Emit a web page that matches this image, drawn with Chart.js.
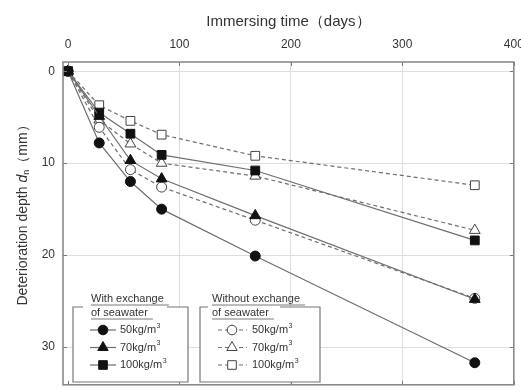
<!DOCTYPE html>
<html>
<head>
<meta charset="utf-8">
<script src="https://cdn.jsdelivr.net/npm/chart.js@4.4.1/dist/chart.umd.min.js"></script>
<style>
html,body{margin:0;padding:0;background:#fff}
#wrap{width:521px;height:392px}
</style>
</head>
<body>
<div id="wrap"><canvas id="c" width="521" height="392"></canvas></div>
<script>
// immersion days (x) and deterioration depth in mm (y)
const DAYS = [0, 28, 56, 84, 168, 365];
const WITH_50 = [0, 7.8, 12.0, 15.0, 20.1, 31.7];
const WITH_70 = [0, 4.9, 9.7, 11.7, 15.7, 24.8];
const WITH_100 = [0, 4.5, 6.8, 9.1, 10.8, 18.4];
const WITHOUT_50 = [0, 6.1, 10.7, 12.6, 16.2, 24.7];
const WITHOUT_70 = [0, 5.3, 7.9, 10.0, 11.4, 17.3];
const WITHOUT_100 = [0, 3.7, 5.4, 6.9, 9.2, 12.4];
const X_TICKS = [0, 100, 200, 300, 400];
const Y_TICKS = [0, 10, 20, 30];
const DOSES = ["50kg/m", "70kg/m", "100kg/m"];
const SHAPES = ["circle", "triangle", "rect"];

const FONT = "'Liberation Sans', Arial, sans-serif";
const LINE = "#6e6e6e";
const INK = "#111";
const TXT = "#333";

Chart.defaults.font.family = FONT;

function pts(vals){ return DAYS.map((d,i)=>({x:d, y:vals[i]})); }
function radius(shape){ return shape==="circle" ? 5 : shape==="triangle" ? 6.2 : 6.2; }

function series(label, vals, shape, filled){
  return {
    label, data: pts(vals),
    borderColor: LINE, borderWidth: 1.2,
    borderDash: filled ? [] : [4,3],
    pointStyle: shape, pointRadius: radius(shape),
    pointBackgroundColor: filled ? INK : "#fff",
    pointBorderColor: filled ? INK : "#444",
    pointBorderWidth: 1,
    tension: 0, fill: false
  };
}

function mark(ctx, shape, x, y, filled){
  ctx.save();
  ctx.beginPath();
  if(shape==="circle"){ ctx.arc(x, y, 4.8, 0, Math.PI*2); }
  else if(shape==="triangle"){
    const r = 6;
    ctx.moveTo(x, y-r);
    ctx.lineTo(x + r*Math.sin(2*Math.PI/3), y - r*Math.cos(2*Math.PI/3));
    ctx.lineTo(x + r*Math.sin(4*Math.PI/3), y - r*Math.cos(4*Math.PI/3));
    ctx.closePath();
  } else { ctx.rect(x-4.3, y-4.3, 8.6, 8.6); }
  ctx.fillStyle = filled ? INK : "#fff";
  ctx.fill();
  ctx.lineWidth = 1; ctx.strokeStyle = filled ? INK : "#444";
  ctx.stroke();
  ctx.restore();
}

function legendBox(ctx, b){
  ctx.save();
  ctx.fillStyle = "#fff";
  ctx.fillRect(b.x0, b.y0, b.x1-b.x0, b.y1-b.y0);
  ctx.strokeStyle = "#777"; ctx.lineWidth = 1.2;
  ctx.beginPath();
  ctx.moveTo(b.gap0, b.y0); ctx.lineTo(b.x0, b.y0); ctx.lineTo(b.x0, b.y1);
  ctx.lineTo(b.x1, b.y1); ctx.lineTo(b.x1, b.y0); ctx.lineTo(b.gap1, b.y0);
  ctx.stroke();
  ctx.font = "11px " + FONT; ctx.fillStyle = TXT; ctx.textBaseline = "middle";
  b.title.forEach((t,i)=>{
    const ty = b.ty + i*14;
    ctx.fillText(t, b.tx, ty);
    const w = ctx.measureText(t).width;
    ctx.strokeStyle = "#555"; ctx.lineWidth = 0.8;
    ctx.beginPath(); ctx.moveTo(b.tx, ty+6); ctx.lineTo(b.tx+w+5, ty+6); ctx.stroke();
  });
  DOSES.forEach((d,i)=>{
    const ry = b.ry + i*17.5;
    ctx.strokeStyle = LINE; ctx.lineWidth = 1.2;
    ctx.setLineDash(b.filled ? [] : [4,3]);
    ctx.beginPath(); ctx.moveTo(b.l0, ry); ctx.lineTo(b.l1, ry); ctx.stroke();
    ctx.setLineDash([]);
    mark(ctx, SHAPES[i], b.mx, ry, b.filled);
    ctx.font = "11px " + FONT; ctx.fillStyle = TXT;
    ctx.fillText(d, b.lx, ry);
    const w = ctx.measureText(d).width;
    ctx.font = "7px " + FONT;
    ctx.fillText("3", b.lx + w + 0.5, ry - 4);
  });
  ctx.restore();
}

const framePlugin = {
  id: "frame",
  afterDraw(chart){
    const {ctx, chartArea: a, scales} = chart;
    const sx = scales.x, sy = scales.y;
    ctx.save();
    // inward tick marks
    ctx.strokeStyle = "#777"; ctx.lineWidth = 1;
    ctx.beginPath();
    X_TICKS.forEach(v=>{
      const px = Math.round(sx.getPixelForValue(v)) + 0.5;
      ctx.moveTo(px, a.top); ctx.lineTo(px, a.top+4);
      ctx.moveTo(px, a.bottom); ctx.lineTo(px, a.bottom-4);
    });
    Y_TICKS.forEach(v=>{
      const py = Math.round(sy.getPixelForValue(v)) + 0.5;
      ctx.moveTo(a.left, py); ctx.lineTo(a.left+4, py);
      ctx.moveTo(a.right, py); ctx.lineTo(a.right-4, py);
    });
    ctx.stroke();
    // frame
    ctx.strokeStyle = "#8a8a8a"; ctx.lineWidth = 1.6;
    ctx.strokeRect(a.left, a.top, a.right-a.left, a.bottom-a.top);

    // y title with italic d and subscript n
    const parts = [
      {t:"Deterioration depth ", f:"14px " + FONT, dy:0},
      {t:"d", f:"italic 14px " + FONT, dy:0},
      {t:"n", f:"9px " + FONT, dy:4},
      {t:"（mm）", f:"14px " + FONT, dy:0}
    ];
    let total = 0;
    parts.forEach(p=>{ ctx.font = p.f; p.w = ctx.measureText(p.t).width; total += p.w; });
    ctx.translate(23, 212); ctx.rotate(-Math.PI/2);
    ctx.fillStyle = TXT; ctx.textBaseline = "middle";
    let cx = -total/2;
    parts.forEach(p=>{ ctx.font = p.f; ctx.fillText(p.t, cx, p.dy); cx += p.w; });
    ctx.restore();

    legendBox(ctx, {x0:73, x1:188, y0:307, y1:382, gap0:83, gap1:167,
      title:["With exchange", "of seawater"], tx:91, ty:299,
      ry:330, l0:90, l1:116, mx:103, lx:120, filled:true});
    legendBox(ctx, {x0:200, x1:320, y0:307, y1:382, gap0:208, gap1:280,
      title:["Without exchange", "of seawater"], tx:212, ty:299,
      ry:330, l0:218, l1:247, mx:232, lx:252, filled:false});
  }
};

const gridColor = c => (c.tick && (c.tick.value === 0 && c.scale.axis === "x")) ? "rgba(0,0,0,0)" : "#dedede";

new Chart(document.getElementById("c"), {
  type: "line",
  data: {
    datasets: [
      series("With 50kg/m3", WITH_50, "circle", true),
      series("With 70kg/m3", WITH_70, "triangle", true),
      series("With 100kg/m3", WITH_100, "rect", true),
      series("Without 50kg/m3", WITHOUT_50, "circle", false),
      series("Without 70kg/m3", WITHOUT_70, "triangle", false),
      series("Without 100kg/m3", WITHOUT_100, "rect", false)
    ]
  },
  options: {
    responsive: false, animation: false, devicePixelRatio: 1,
    layout: { padding: { left: 0, top: 0, right: 7, bottom: 7 } },
    plugins: { legend: { display: false }, tooltip: { enabled: false } },
    scales: {
      x: {
        type: "linear", position: "top", min: -4.5, max: 400,
        afterBuildTicks: s => { s.ticks = X_TICKS.map(v => ({ value: v })); },
        afterFit: s => { s.height = 62; s.paddingLeft = 0; s.paddingRight = 0; },
        grid: { color: gridColor, drawTicks: false },
        border: { display: false },
        ticks: { padding: 10, color: TXT, font: { size: 12 } },
        title: { display: true, text: "Immersing time（days）", color: TXT,
                 font: { size: 15 }, padding: { top: 13, bottom: 0 } }
      },
      y: {
        type: "linear", reverse: true, min: -1, max: 34.1,
        afterBuildTicks: s => { s.ticks = Y_TICKS.map(v => ({ value: v })); },
        afterFit: s => { s.width = 63; s.paddingTop = 0; s.paddingBottom = 0; },
        grid: { color: gridColor, drawTicks: false },
        border: { display: false },
        ticks: { padding: 8, color: TXT, font: { size: 12 } }
      }
    }
  },
  plugins: [framePlugin]
});
</script>
</body>
</html>
